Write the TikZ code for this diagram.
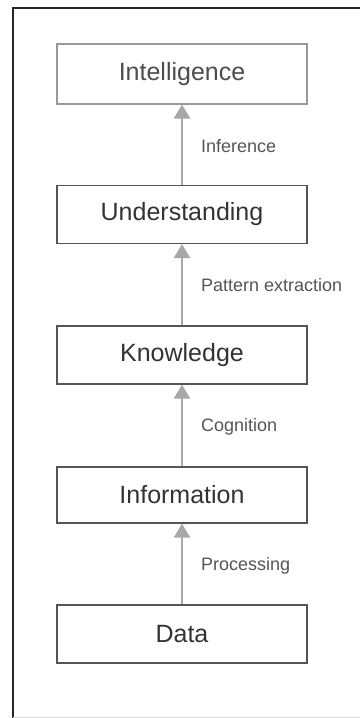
\documentclass[tikz,border=0pt]{standalone}
\usepackage{fontspec}
\setmainfont{Liberation Sans}
\usetikzlibrary{arrows.meta}
\definecolor{boxline}{HTML}{555555}
\definecolor{boxtext}{HTML}{333333}
\definecolor{arrowgray}{HTML}{A8A8A8}
\definecolor{labeltext}{HTML}{555555}
\tikzset{
  levelbox/.style={draw=boxline, line width=1.3pt, minimum width=250pt, minimum height=58pt,
    inner sep=0pt, text=boxtext, font=\fontsize{25}{30}\selectfont},
  lvlarrow/.style={draw=arrowgray, line width=2.6pt, -{Triangle[width=16pt,length=14pt]}},
  steplabel/.style={anchor=west, inner sep=0pt, text=labeltext, font=\fontsize{18}{22}\selectfont}
}
\begin{document}
\begin{tikzpicture}[x=1pt,y=-1pt]
\useasboundingbox (0,0) rectangle (360,718);
\fill[white] (0,0) rectangle (360,718);
% frame
\draw[black!85, line width=2.6pt] (13,718) -- (13,8) -- (360,8);
\draw[black!15, line width=0.8pt] (13,717) -- (360,717);
% boxes
\node[levelbox, draw=black!40, text=black!70, line width=1.1pt, minimum height=60pt] (intel) at (182,74) {Intelligence};
\node[levelbox] (under) at (182,214.5) {Understanding};
\node[levelbox] (know) at (182,355) {Knowledge};
\node[levelbox, minimum height=56pt] (info) at (182,495) {Information};
\node[levelbox] (data) at (182,634) {Data};
% arrows
\draw[lvlarrow] (under.north) -- (intel.south);
\draw[lvlarrow] (know.north) -- (under.south);
\draw[lvlarrow] (info.north) -- (know.south);
\draw[lvlarrow] (data.north) -- (info.south);
% labels
\node[steplabel] (l1) at (201,146) {Inference};
\node[steplabel] (l2) at (201,285) {Pattern extraction};
\node[steplabel] (l3) at (201,427) {Cognition};
\node[steplabel] (l4) at (201,566) {Processing};
\end{tikzpicture}
\end{document}
